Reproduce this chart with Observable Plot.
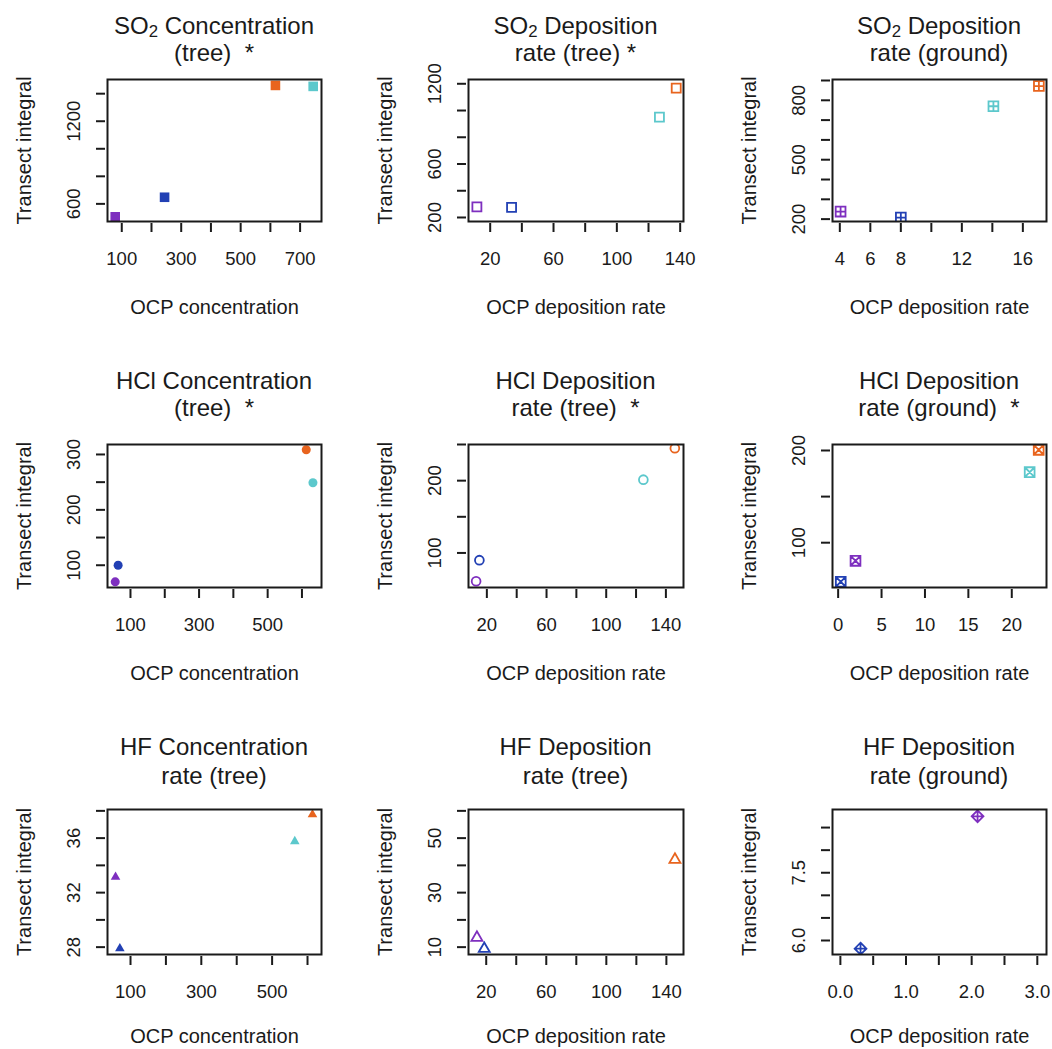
<!DOCTYPE html>
<html>
<head>
<meta charset="utf-8">
<script src="https://cdn.jsdelivr.net/npm/d3@7"></script>
<script src="https://cdn.jsdelivr.net/npm/@observablehq/plot@0.6"></script>
<style>
  html, body { margin: 0; padding: 0; background: #fff; }
  #chart { position: relative; width: 1052px; height: 1049px; overflow: hidden;
           font-family: "Liberation Sans", Arial, Helvetica, sans-serif; color: #1a1a1a; }
  .panel { position: absolute; }
  .title-line { position: absolute; width: 420px; text-align: center; font-size: 24px;
                line-height: 20px; white-space: pre; color: #1a1a1a; }
  .title-line sub { font-size: 70%; vertical-align: -0.15em; line-height: 0; }
</style>
</head>
<body>
<div id="chart"></div>
<script>
// Four sampling sites, one colour each
const sites = ["A", "B", "C", "D"];
const siteColors = ["#7e2fbf", "#2240b4", "#e8641e", "#5cc8cc"];

// SO2 concentration (tree)
const so2ConcTreeX = [78, 244, 617, 744];
const so2ConcTreeY = [506, 648, 1460, 1453];
const so2ConcTreeXTicks = [100, 200, 300, 400, 500, 600, 700];
const so2ConcTreeXLabels = ["100", "300", "500", "700"];
const so2ConcTreeYTicks = [600, 800, 1000, 1200, 1400];
const so2ConcTreeYLabels = ["600", "1200"];

// SO2 deposition rate (tree)
const so2DepTreeX = [11.6, 33.5, 137.5, 126.9];
const so2DepTreeY = [280, 275, 1167, 950];
const so2DepTreeXTicks = [20, 40, 60, 80, 100, 120, 140];
const so2DepTreeXLabels = ["20", "60", "100", "140"];
const so2DepTreeYTicks = [200, 400, 600, 800, 1000, 1200];
const so2DepTreeYLabels = ["200", "600", "1200"];

// SO2 deposition rate (ground)
const so2DepGroundX = [4.05, 8.0, 17.05, 14.07];
const so2DepGroundY = [238, 208, 872, 770];
const so2DepGroundXTicks = [4, 6, 8, 10, 12, 14, 16];
const so2DepGroundXLabels = ["4", "6", "8", "12", "16"];
const so2DepGroundYTicks = [200, 300, 400, 500, 600, 700, 800, 900];
const so2DepGroundYLabels = ["200", "500", "800"];

// HCl concentration (tree)
const hclConcTreeX = [55.5, 64, 612.5, 632];
const hclConcTreeY = [70, 100, 308.5, 249];
const hclConcTreeXTicks = [100, 200, 300, 400, 500, 600];
const hclConcTreeXLabels = ["100", "300", "500"];
const hclConcTreeYTicks = [100, 150, 200, 250, 300];
const hclConcTreeYLabels = ["100", "200", "300"];

// HCl deposition rate (tree)
const hclDepTreeX = [12.8, 15, 146, 124.9];
const hclDepTreeY = [60.9, 90, 244.9, 201.4];
const hclDepTreeXTicks = [20, 40, 60, 80, 100, 120, 140];
const hclDepTreeXLabels = ["20", "60", "100", "140"];
const hclDepTreeYTicks = [100, 150, 200, 250];
const hclDepTreeYLabels = ["100", "200"];

// HCl deposition rate (ground)
const hclDepGroundX = [2.0, 0.3, 23.1, 22.06];
const hclDepGroundY = [80.3, 57.6, 200.7, 176.5];
const hclDepGroundXTicks = [0, 5, 10, 15, 20];
const hclDepGroundXLabels = ["0", "5", "10", "15", "20"];
const hclDepGroundYTicks = [100, 150, 200];
const hclDepGroundYLabels = ["100", "200"];

// HF concentration rate (tree)
const hfConcTreeX = [57.7, 69.9, 614, 564];
const hfConcTreeY = [33.15, 27.9, 37.73, 35.76];
const hfConcTreeXTicks = [100, 200, 300, 400, 500, 600];
const hfConcTreeXLabels = ["100", "300", "500"];
const hfConcTreeYTicks = [28, 30, 32, 34, 36, 38];
const hfConcTreeYLabels = ["28", "32", "36"];

// HF deposition rate (tree) — no value for site D
const hfDepTreeX = [13.8, 18.7, 145.7, null];
const hfDepTreeY = [13.5, 9.4, 42.1, null];
const hfDepTreeXTicks = [20, 40, 60, 80, 100, 120, 140];
const hfDepTreeXLabels = ["20", "60", "100", "140"];
const hfDepTreeYTicks = [10, 20, 30, 40, 50, 60];
const hfDepTreeYLabels = ["10", "30", "50"];

// HF deposition rate (ground) — sites A and B only
const hfDepGroundX = [2.09, 0.307, null, null];
const hfDepGroundY = [8.75, 5.82, null, null];
const hfDepGroundXTicks = [0, 0.5, 1, 1.5, 2, 2.5, 3];
const hfDepGroundXLabels = ["0.0", "1.0", "2.0", "3.0"];
const hfDepGroundYTicks = [6, 6.5, 7, 7.5, 8, 8.5];
const hfDepGroundYLabels = ["6.0", "7.5"];

// Plotting symbols (size = pi r^2, so r is the half-width)
const half = size => Math.sqrt(size / Math.PI);
const symSquare = { draw(c, s) { const r = half(s); c.rect(-r, -r, 2 * r, 2 * r); } };
const symSquarePlus = { draw(c, s) { const r = half(s); c.rect(-r, -r, 2 * r, 2 * r);
  c.moveTo(-r, 0); c.lineTo(r, 0); c.moveTo(0, -r); c.lineTo(0, r); } };
const symSquareTimes = { draw(c, s) { const r = half(s); c.rect(-r, -r, 2 * r, 2 * r);
  c.moveTo(-r, -r); c.lineTo(r, r); c.moveTo(-r, r); c.lineTo(r, -r); } };
const symTriangle = { draw(c, s) { const h = half(s);
  c.moveTo(0, -h * 1.1547); c.lineTo(h, h * 0.5774); c.lineTo(-h, h * 0.5774); c.closePath(); } };
const symDiamondPlus = { draw(c, s) { const r = half(s);
  c.moveTo(0, -r); c.lineTo(r, 0); c.lineTo(0, r); c.lineTo(-r, 0); c.closePath();
  c.moveTo(-r, 0); c.lineTo(r, 0); c.moveTo(0, -r); c.lineTo(0, r); } };

const markers = {
  squareFilled:   { symbol: symSquare, r: 4.8, filled: true },
  squareOpen:     { symbol: symSquare, r: 4.5, filled: false },
  squarePlus:     { symbol: symSquarePlus, r: 4.9, filled: false },
  circleFilled:   { symbol: "circle", r: 4.5, filled: true },
  circleOpen:     { symbol: "circle", r: 4.4, filled: false },
  squareTimes:    { symbol: symSquareTimes, r: 4.9, filled: false },
  triangleFilled: { symbol: symTriangle, r: 4.8, filled: true },
  triangleOpen:   { symbol: symTriangle, r: 5.5, filled: false },
  diamondPlus:    { symbol: symDiamondPlus, r: 5.9, filled: false }
};

const panels = [
  { title: ["SO<sub>2</sub> Concentration", "(tree)  *"], xLabel: "OCP concentration",
    x: so2ConcTreeX, y: so2ConcTreeY, xDomain: [52, 772], yDomain: [472, 1503],
    xTicks: so2ConcTreeXTicks, xLabels: so2ConcTreeXLabels, yTicks: so2ConcTreeYTicks, yLabels: so2ConcTreeYLabels,
    marker: "squareFilled" },
  { title: ["SO<sub>2</sub> Deposition", "rate (tree) *"], xLabel: "OCP deposition rate",
    x: so2DepTreeX, y: so2DepTreeY, xDomain: [6.3, 142.1], yDomain: [170, 1232],
    xTicks: so2DepTreeXTicks, xLabels: so2DepTreeXLabels, yTicks: so2DepTreeYTicks, yLabels: so2DepTreeYLabels,
    marker: "squareOpen" },
  { title: ["SO<sub>2</sub> Deposition", "rate (ground)"], xLabel: "OCP deposition rate",
    x: so2DepGroundX, y: so2DepGroundY, xDomain: [3.52, 17.55], yDomain: [188, 905],
    xTicks: so2DepGroundXTicks, xLabels: so2DepGroundXLabels, yTicks: so2DepGroundYTicks, yLabels: so2DepGroundYLabels,
    marker: "squarePlus" },
  { title: ["HCl Concentration", "(tree)  *"], xLabel: "OCP concentration",
    x: hclConcTreeX, y: hclConcTreeY, xDomain: [33, 657], yDomain: [59.8, 318],
    xTicks: hclConcTreeXTicks, xLabels: hclConcTreeXLabels, yTicks: hclConcTreeYTicks, yLabels: hclConcTreeYLabels,
    marker: "circleFilled" },
  { title: ["HCl Deposition", "rate (tree)  *"], xLabel: "OCP deposition rate",
    x: hclDepTreeX, y: hclDepTreeY, xDomain: [7.7, 151.8], yDomain: [52.2, 250],
    xTicks: hclDepTreeXTicks, xLabels: hclDepTreeXLabels, yTicks: hclDepTreeYTicks, yLabels: hclDepTreeYLabels,
    marker: "circleOpen" },
  { title: ["HCl Deposition", "rate (ground)  *"], xLabel: "OCP deposition rate",
    x: hclDepGroundX, y: hclDepGroundY, xDomain: [-0.65, 24.0], yDomain: [51.4, 206.5],
    xTicks: hclDepGroundXTicks, xLabels: hclDepGroundXLabels, yTicks: hclDepGroundYTicks, yLabels: hclDepGroundYLabels,
    marker: "squareTimes" },
  { title: ["HF Concentration", "rate (tree)"], xLabel: "OCP concentration",
    x: hfConcTreeX, y: hfConcTreeY, xDomain: [35, 639.5], yDomain: [27.46, 38.1],
    xTicks: hfConcTreeXTicks, xLabels: hfConcTreeXLabels, yTicks: hfConcTreeYTicks, yLabels: hfConcTreeYLabels,
    marker: "triangleFilled" },
  { title: ["HF Deposition", "rate (tree)"], xLabel: "OCP deposition rate",
    x: hfDepTreeX, y: hfDepTreeY, xDomain: [8.2, 151.4], yDomain: [7.3, 60.5],
    xTicks: hfDepTreeXTicks, xLabels: hfDepTreeXLabels, yTicks: hfDepTreeYTicks, yLabels: hfDepTreeYLabels,
    marker: "triangleOpen" },
  { title: ["HF Deposition", "rate (ground)"], xLabel: "OCP deposition rate",
    x: hfDepGroundX, y: hfDepGroundY, xDomain: [-0.12, 3.14], yDomain: [5.69, 8.9],
    xTicks: hfDepGroundXTicks, xLabels: hfDepGroundXLabels, yTicks: hfDepGroundYTicks, yLabels: hfDepGroundYLabels,
    marker: "diamondPlus" }
];

// Grid geometry: plot-box edges per column / row, title baselines and x-label offsets per row
const colLeft = [107, 468, 832], colRight = [321, 683, 1046];
const rowTop = [79, 444, 809], rowBottom = [221, 587, 954];
const titleBaselines = [[34, 61], [389, 416], [755, 784]];
const xLabelOffset = [86, 86, 82];
const ML = 100, MR = 5, MT = 12, MB = 95;
const ink = "#1a1a1a";
const font = '"Liberation Sans", Arial, Helvetica, sans-serif';

const chart = document.getElementById("chart");

panels.forEach((p, k) => {
  const col = k % 3, row = Math.floor(k / 3);
  const left = colLeft[col], right = colRight[col], top = rowTop[row], bottom = rowBottom[row];
  const w = right - left, h = bottom - top;
  const m = markers[p.marker];
  const points = sites.map((s, i) => ({ site: s, x: p.x[i], y: p.y[i] }))
    .filter(d => d.x != null && d.y != null);

  const svg = Plot.plot({
    width: w + ML + MR, height: h + MT + MB,
    marginLeft: ML, marginRight: MR, marginTop: MT, marginBottom: MB,
    style: { fontFamily: font, background: "transparent", overflow: "visible", color: ink },
    x: { domain: p.xDomain },
    y: { domain: p.yDomain },
    color: { domain: sites, range: siteColors },
    marks: [
      Plot.axisX(p.xTicks, { tickSize: 9, dy: 2, strokeWidth: 2, stroke: ink, fill: "none", label: null }),
      Plot.axisY(p.yTicks, { tickSize: 9, dx: -2, strokeWidth: 2, stroke: ink, fill: "none", label: null }),
      Plot.text(p.xLabels, { x: d => +d, text: d => d, frameAnchor: "bottom", dy: 37.5,
        lineAnchor: "middle", fontSize: 18.5, fill: ink }),
      Plot.text(p.yLabels, { y: d => +d, text: d => d, frameAnchor: "left", dx: -33, rotate: -90,
        textAnchor: "middle", lineAnchor: "middle", fontSize: 18.5, fill: ink }),
      Plot.text(["Transect integral"], { text: d => d, frameAnchor: "left", dx: -83, rotate: -90,
        textAnchor: "middle", lineAnchor: "middle", fontSize: 20, fill: ink }),
      Plot.text([p.xLabel], { text: d => d, frameAnchor: "bottom", dy: xLabelOffset[row],
        textAnchor: "middle", lineAnchor: "middle", fontSize: 20, fill: ink }),
      Plot.dot(points, {
        x: "x", y: "y", symbol: m.symbol, r: m.r, clip: "frame",
        fill: m.filled ? "site" : "none",
        stroke: m.filled ? "none" : "site",
        strokeWidth: m.filled ? 0 : 1.8
      }),
      Plot.frame({ stroke: ink, strokeWidth: 2 })
    ]
  });

  const holder = document.createElement("div");
  holder.className = "panel";
  holder.style.left = (left - ML) + "px";
  holder.style.top = (top - MT) + "px";
  holder.appendChild(svg);
  chart.appendChild(holder);

  // two-line panel title, each line centred over the plot box
  const cx = (left + right) / 2;
  p.title.forEach((line, j) => {
    const div = document.createElement("div");
    div.className = "title-line";
    div.innerHTML = line;
    div.style.left = (cx - 210) + "px";
    div.style.top = (titleBaselines[row][j] - 18.3) + "px";
    chart.appendChild(div);
  });
});
</script>
</body>
</html>
